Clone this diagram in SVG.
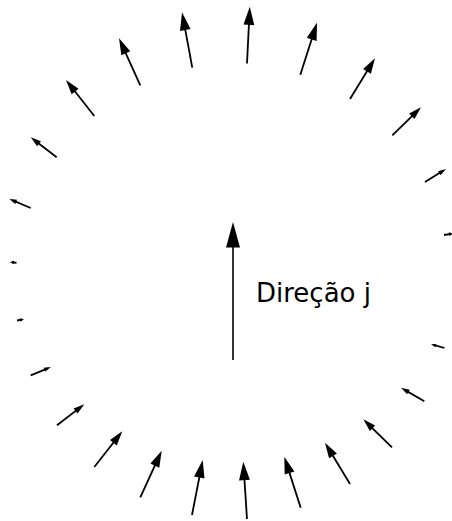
<svg xmlns="http://www.w3.org/2000/svg" width="452" height="521" viewBox="0 0 452 521">
<style>
.s{stroke:#000;stroke-width:1.8;fill:none;stroke-linecap:butt}
.h{fill:#000;stroke:none}
.lbl{font-family:"DejaVu Sans",sans-serif;font-size:26px;fill:#000}
</style>
<rect width="452" height="521" fill="#fff"/>
<g id="field">
<g id="aA"><line class="s" x1="56.7" y1="157.3" x2="34.86" y2="140.5"/><polygon class="h" points="30.7,137.3 40.92,141.23 37.12,146.17"/></g>
<g id="aB"><line class="s" x1="94.3" y1="116" x2="70.53" y2="85.76"/><polygon class="h" points="66,80 78.47,88.83 71.63,94.21"/></g>
<g id="aC"><line class="s" x1="140.3" y1="85.3" x2="122.41" y2="45.82"/><polygon class="h" points="119,38.3 130.28,51.32 121.36,55.36"/></g>
<g id="aD"><line class="s" x1="192.3" y1="67.7" x2="183.65" y2="21.16"/><polygon class="h" points="182,12.3 190.56,29.05 180.04,31.01"/></g>
<g id="aE"><line class="s" x1="247" y1="63.5" x2="249.35" y2="15.79"/><polygon class="h" points="249.8,6.7 254.29,25.15 243.51,24.61"/></g>
<g id="aF"><line class="s" x1="300.3" y1="74.7" x2="314.33" y2="31.02"/><polygon class="h" points="317,22.7 316.6,40.93 306.72,37.75"/></g>
<g id="aG"><line class="s" x1="350" y1="99" x2="371" y2="64.81"/><polygon class="h" points="375,58.3 370.87,73.7 363.13,68.94"/></g>
<g id="aH"><line class="s" x1="392.3" y1="135.3" x2="416.41" y2="111.78"/><polygon class="h" points="421,107.3 414.48,118.99 409.16,113.53"/></g>
<g id="aI"><line class="s" x1="425" y1="182" x2="442.64" y2="171.08"/><polygon class="h" points="446,169 440.52,175.16 438.04,171.16"/></g>
<g id="aJ"><line class="s" x1="444" y1="235" x2="451.03" y2="233.83"/><polygon class="h" points="453,233.5 449.38,236.13 448.72,232.19"/></g>
<g id="aK"><line class="s" x1="444.5" y1="348" x2="433.41" y2="344.96"/><polygon class="h" points="431,344.3 436.3,343.88 435.34,347.36"/></g>
<g id="aL"><line class="s" x1="424.3" y1="401.3" x2="404.73" y2="389.88"/><polygon class="h" points="401,387.7 409.74,389.84 407.16,394.26"/></g>
<g id="aM"><line class="s" x1="392" y1="447.3" x2="367.89" y2="423.78"/><polygon class="h" points="363.3,419.3 375.14,425.53 369.82,430.99"/></g>
<g id="aN"><line class="s" x1="350" y1="484" x2="329" y2="449.31"/><polygon class="h" points="325,442.7 336.93,453.54 329.07,458.3"/></g>
<g id="aO"><line class="s" x1="300.7" y1="507.7" x2="286.92" y2="464.86"/><polygon class="h" points="284.3,456.7 294.4,471.46 284.7,474.58"/></g>
<g id="aP"><line class="s" x1="247" y1="519" x2="243.89" y2="470.87"/><polygon class="h" points="243.3,461.7 249.92,479.68 239.04,480.38"/></g>
<g id="aQ"><line class="s" x1="192" y1="515" x2="200.99" y2="468.8"/><polygon class="h" points="202.7,460 204.5,478.62 194.06,476.58"/></g>
<g id="aR"><line class="s" x1="140.3" y1="497.3" x2="158.28" y2="458.16"/><polygon class="h" points="161.7,450.7 159.28,467.64 150.42,463.58"/></g>
<g id="aS"><line class="s" x1="94.3" y1="467" x2="117.82" y2="437.01"/><polygon class="h" points="122.3,431.3 116.73,445.39 109.95,440.07"/></g>
<g id="aT"><line class="s" x1="57" y1="425.3" x2="79.93" y2="407.66"/><polygon class="h" points="84.3,404.3 77.55,413.61 73.57,408.43"/></g>
<g id="aU"><line class="s" x1="30.7" y1="375.3" x2="47.75" y2="368.33"/><polygon class="h" points="51,367 45.29,371.59 43.71,367.73"/></g>
<g id="aX"><line class="s" x1="17" y1="320.5" x2="22.03" y2="319.57"/><polygon class="h" points="24,319.2 20.4,321.7 19.74,318.16"/></g>
<g id="aW"><line class="s" x1="16.5" y1="262.8" x2="11.99" y2="262.25"/><polygon class="h" points="10,262 14.19,260.7 13.75,264.28"/></g>
<g id="aV"><line class="s" x1="30.7" y1="208" x2="12.72" y2="200.44"/><polygon class="h" points="9.3,199 17.01,199.84 15.29,203.92"/></g>
</g>
<g id="direction">
<line class="s" style="stroke-width:1.6" x1="233" y1="360" x2="233" y2="236"/>
<polygon class="h" points="233,222 240,247.5 226,247.5"/>
<text class="lbl" x="256" y="301.5">Direção j</text>
</g>
</svg>
